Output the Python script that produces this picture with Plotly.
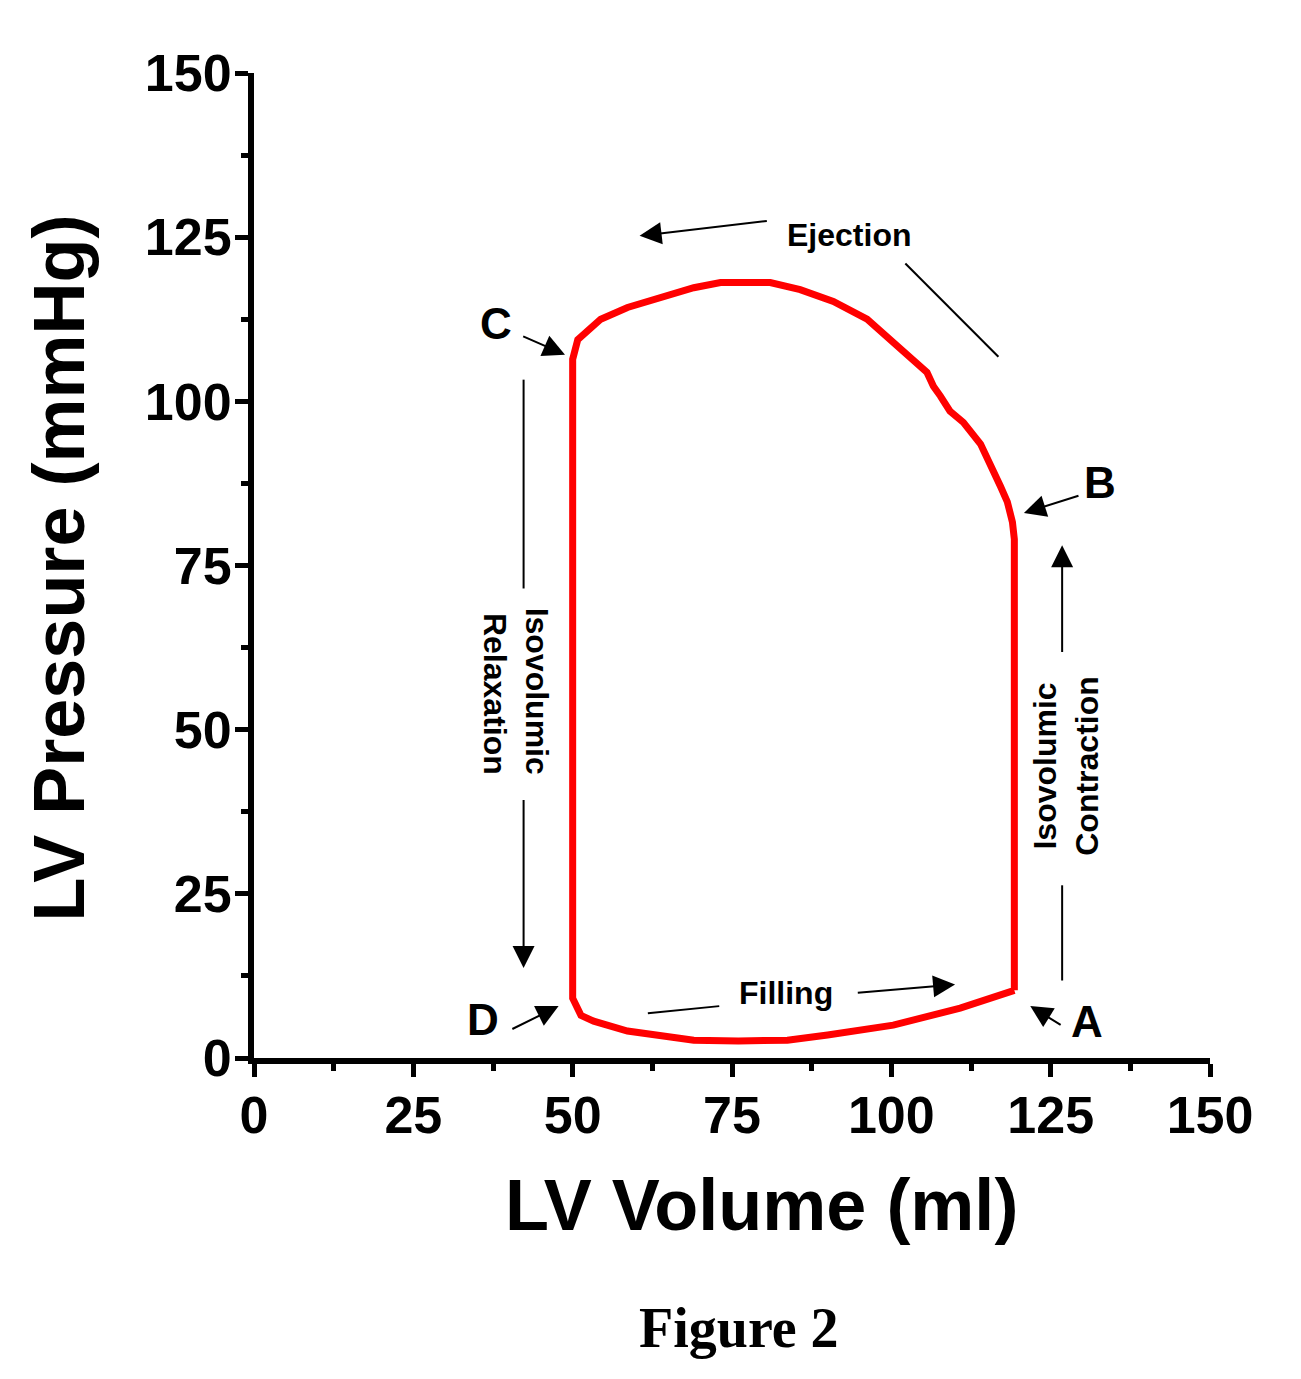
import plotly.graph_objects as go

# PV loop (ml, mmHg), going A -> B -> C -> D -> A
volume = [119.3, 119.3, 119.0, 118.2, 117.1, 115.5, 114.0, 111.3, 109.2, 107.7,
          106.6, 105.6, 101.4, 96.2, 90.9, 85.7, 81.0, 73.2, 69.0, 63.8,
          58.6, 54.4, 52.4, 50.8, 50.0, 50.0, 51.3, 53.3, 58.6, 63.8,
          69.0, 76.0, 83.7, 90.0, 100.3, 110.8, 119.3]
pressure = [10.3, 79.0, 81.6, 84.7, 87.1, 90.7, 93.5, 96.8, 98.5, 100.8,
            102.3, 104.4, 107.9, 112.5, 115.2, 117.0, 118.1, 118.1, 117.3, 115.8,
            114.3, 112.5, 110.9, 109.4, 106.4, 9.1, 6.5, 5.6, 4.1, 3.3,
            2.7, 2.6, 2.7, 3.5, 5.0, 7.6, 10.3]

tick_vals = [0, 25, 50, 75, 100, 125, 150]
tick_text = ["0", "25", "50", "75", "100", "125", "150"]

# point labels (text, x, y)
point_labels = [("C", 37.9, 111.9), ("B", 132.8, 87.7), ("A", 130.7, 5.6), ("D", 36.0, 5.9)]
# arrows (head x, head y, tail x, tail y)
arrows = [
    (60.5, 125.2, 80.7, 127.5),    # ejection
    (48.8, 107.1, 42.0, 110.0),    # C
    (120.8, 83.0, 129.6, 85.7),    # B
    (121.8, 7.9, 126.8, 4.9),      # A
    (47.8, 7.9, 40.3, 4.3),        # D
    (110.0, 11.2, 94.5, 9.9),      # filling
    (42.3, 13.7, 42.3, 39.5),      # relaxation
    (126.8, 78.1, 126.8, 61.6),    # contraction
]
# plain line pieces (x0, y0, x1, y1)
segments = [
    (102.2, 121.0, 116.8, 106.8),
    (61.8, 6.8, 73.0, 7.9),
    (42.3, 103.3, 42.3, 71.5),
    (126.8, 26.3, 126.8, 11.8),
]

fig = go.Figure()
fig.add_trace(go.Scatter(x=volume, y=pressure, mode="lines",
                         line=dict(color="#ff0000", width=7),
                         showlegend=False, hoverinfo="skip"))

for x0, y0, x1, y1 in segments:
    fig.add_trace(go.Scatter(x=[x0, x1], y=[y0, y1], mode="lines",
                             line=dict(color="black", width=2),
                             showlegend=False, hoverinfo="skip"))

ann = []
for hx, hy, tx, ty in arrows:
    ann.append(dict(x=hx, y=hy, ax=tx, ay=ty, xref="x", yref="y", axref="x", ayref="y",
                    text="", showarrow=True, arrowhead=2, arrowsize=2.2, arrowwidth=2,
                    arrowcolor="black", standoff=0))

for t, x, y in point_labels:
    ann.append(dict(x=x, y=y, xref="x", yref="y", text=t, showarrow=False,
                    font=dict(family="Liberation Sans", size=44, color="black", weight="bold")))

small = dict(family="Liberation Sans", size=32, color="black", weight="bold")
ann.append(dict(x=93.4, y=125.4, xref="x", yref="y", text="Ejection", showarrow=False, font=small))
ann.append(dict(x=83.5, y=9.9, xref="x", yref="y", text="Filling", showarrow=False, font=small))
ann.append(dict(x=41.1, y=55.8, xref="x", yref="y", text="Isovolumic<br>Relaxation",
                showarrow=False, textangle=90, align="right", font=small))
ann.append(dict(x=127.4, y=44.5, xref="x", yref="y", text="Isovolumic<br>Contraction",
                showarrow=False, textangle=-90, font=small))

big = dict(family="Liberation Sans", size=72, color="black", weight="bold")
ann.append(dict(x=0.531, y=-0.149, xref="paper", yref="paper", text="LV Volume (ml)",
                showarrow=False, font=big, yanchor="middle"))
ann.append(dict(x=-0.204, y=0.498, xref="paper", yref="paper", text="LV Pressure (mmHg)",
                showarrow=False, font=big, textangle=-90, xanchor="center"))
ann.append(dict(x=0.507, y=-0.308, xref="paper", yref="paper", text="Figure 2",
                showarrow=False, font=dict(family="Liberation Serif", size=56,
                                           color="black", weight="bold")))

axis_style = dict(range=[0, 150], tickvals=tick_vals, ticktext=tick_text,
                  showline=True, linewidth=6, linecolor="black",
                  ticks="outside", ticklen=13, tickwidth=5, tickcolor="black",
                  minor=dict(dtick=12.5, ticks="outside", ticklen=7, tickwidth=5,
                             tickcolor="black"),
                  showgrid=False, zeroline=False, automargin=False,
                  tickfont=dict(family="Liberation Sans", size=52, color="black",
                                weight="bold"))

fig.update_layout(
    width=1301, height=1379,
    margin=dict(l=246, r=99, t=65, b=329),
    paper_bgcolor="white", plot_bgcolor="white",
    xaxis=axis_style, yaxis=axis_style,
    annotations=ann,
)
fig.update_xaxes(ticklabelstandoff=-6)
fig.update_yaxes(ticklabelstandoff=-7)

fig.write_html("out.html")
